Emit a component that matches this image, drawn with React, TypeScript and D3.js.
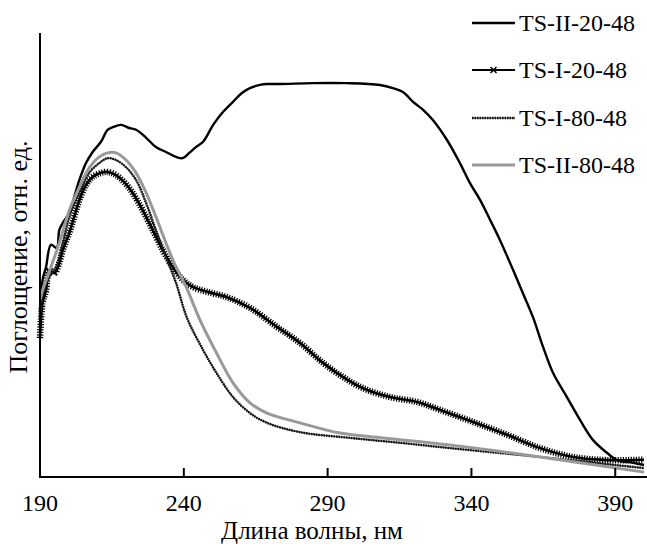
import React from 'react';
import * as d3 from 'd3';

const W = 647;
const H = 544;

const xTicks = [190, 240, 290, 340, 390];
const seriesNames = ['TS-II-20-48', 'TS-I-20-48', 'TS-I-80-48', 'TS-II-80-48'];

const nmII20 = [190, 190.9, 192.1, 193.8, 195.8, 196.7, 197.9, 200.2, 201.9, 203.7, 206.0, 208.3, 211.2, 213.5, 215.3, 218.2, 221.0, 223.4, 226.9, 230.3, 233.8, 237.3, 239.6, 241.9, 244.2, 246.7, 250.2, 253.6, 257.1, 260.2, 263.0, 266.5, 268.9, 273.4, 284.9, 296.7, 308.2, 312.7, 316.2, 319.7, 323.2, 326.6, 331.5, 336.0, 339.5, 343.0, 346.5, 349.9, 354.5, 357.9, 361.4, 364.9, 368.4, 373.2, 377.8, 382.3, 387.2, 390.6, 396.2, 400];
const valII20 = [37.6, 44.4, 47.3, 52.3, 51.6, 55.6, 57.2, 59.5, 63.1, 66.9, 70.7, 73.2, 75.5, 78.2, 78.8, 79.3, 78.6, 78.2, 76.4, 74.3, 73.2, 72.1, 71.8, 73.0, 74.3, 75.5, 79.3, 82.2, 84.5, 86.5, 87.6, 88.3, 88.5, 88.5, 88.7, 88.7, 88.3, 87.6, 86.7, 84.5, 82.7, 80.4, 75.9, 70.7, 66.2, 62.4, 57.9, 53.4, 46.6, 41.4, 36.0, 29.3, 23.4, 18.0, 12.8, 8.3, 5.4, 3.8, 3.2, 2.7];

const nmI20 = [190, 190.9, 192.1, 193.2, 195.0, 196.7, 197.9, 200.2, 201.9, 203.7, 206.0, 208.3, 211.2, 213.5, 216.4, 219.3, 222.2, 225.7, 229.2, 232.7, 236.1, 239.7, 243.1, 248.1, 255.0, 263.0, 272.4, 280.4, 288.4, 295.4, 302.3, 311.7, 321.1, 329.1, 340.6, 352.4, 363.9, 375.3, 387.2, 400];
const valI20 = [31.3, 39.2, 42.1, 46.6, 45.9, 48.2, 51.1, 55.0, 58.6, 62.4, 65.8, 67.6, 68.5, 68.7, 68.0, 66.4, 64.0, 60.1, 55.6, 51.1, 47.3, 44.4, 42.8, 41.7, 40.5, 38.1, 33.8, 30.2, 25.7, 22.5, 20.0, 18.0, 16.9, 15.1, 12.4, 9.5, 6.5, 4.5, 3.8, 3.9];

const nmI80 = [190, 190.9, 193.2, 195.6, 197.9, 200.2, 203.7, 207.1, 210.6, 213.5, 216.4, 219.9, 223.4, 226.9, 230.3, 233.8, 237.3, 241.0, 246.7, 251.4, 257.1, 263.0, 268.9, 280.4, 297.8, 315.2, 332.6, 363.9, 400];
const valI80 = [35.4, 40.5, 45.0, 47.3, 52.7, 58.6, 64.0, 68.5, 70.7, 71.8, 71.4, 69.8, 66.9, 61.7, 55.6, 49.5, 43.7, 36.0, 28.6, 23.4, 18.0, 14.4, 12.2, 10.1, 8.8, 7.7, 6.5, 4.5, 2.0];

const nmII80 = [190, 190.9, 193.8, 196.7, 200.2, 203.7, 207.1, 210.6, 213.5, 216.4, 219.9, 223.4, 226.9, 230.3, 233.8, 237.3, 240.8, 245.6, 251.4, 257.1, 263.0, 268.9, 280.4, 294.3, 309.3, 332.6, 363.9, 400];
const valII80 = [39.9, 42.1, 47.3, 52.7, 60.1, 65.3, 69.6, 72.1, 73.0, 73.0, 71.4, 68.5, 64.0, 58.6, 52.7, 47.3, 42.8, 35.4, 27.9, 21.2, 16.7, 14.4, 12.2, 9.9, 8.8, 7.2, 4.5, 1.1];

const FONT = '"Liberation Serif", "Times New Roman", "DejaVu Serif", serif';
const txtStyle: React.CSSProperties = { fontFamily: FONT, fontSize: '24px' };
const titleStyle: React.CSSProperties = { fontFamily: FONT, fontSize: '25px' };
const yTitleStyle: React.CSSProperties = { fontFamily: FONT, fontSize: '26px' };

export default function App() {
  const x = d3.scaleLinear().domain([190, 400]).range([40, 644]);
  const y = d3.scaleLinear().domain([0, 100]).range([477, 33]);

  const mk = (xs: number[], ys: number[]) =>
    d3
      .line<number>()
      .x((_, i) => x(xs[i]))
      .y((d) => y(d))
      .curve(d3.curveCatmullRom.alpha(0.5))(ys) || '';

  const pII20 = mk(nmII20, valII20);
  const pI20 = mk(nmI20, valI20);
  const pI80 = mk(nmI80, valI80);
  const pII80 = mk(nmII80, valII80);

  const legX0 = 472;
  const legX1 = 515;
  const legRows = [23, 70, 118, 165];
  const mx = (legX0 + legX1) / 2;

  return (
    <svg width={W} height={H} style={{ position: 'absolute', left: 0, top: 0, background: '#fff' }}>
      <rect x={0} y={0} width={W} height={H} fill="#fff" />
      {/* series */}
      <path d={pII20} fill="none" stroke="#000" strokeWidth={2.4} strokeLinejoin="round" />
      <path d={pI20} fill="none" stroke="#000" strokeWidth={2.6} />
      <path d={pI20} fill="none" stroke="#000" strokeWidth={6.5} strokeDasharray="1.2 1.4" />
      <path d={pI80} fill="none" stroke="#444" strokeWidth={1.2} />
      <path d={pI80} fill="none" stroke="#111" strokeWidth={2.4} strokeDasharray="1.6 0.9" />
      <path d={pII80} fill="none" stroke="#999" strokeWidth={3} />

      {/* axes */}
      <line x1={40} y1={33} x2={40} y2={478} stroke="#000" strokeWidth={2} />
      <line x1={39} y1={477} x2={647} y2={477} stroke="#000" strokeWidth={2} />
      {xTicks.map((t) => (
        <g key={t}>
          <line x1={x(t)} x2={x(t)} y1={477} y2={468} stroke="#000" strokeWidth={2} />
          <text x={x(t)} y={510.5} textAnchor="middle" style={txtStyle} fill="#000">
            {t}
          </text>
        </g>
      ))}
      <text x={312} y={538.5} textAnchor="middle" style={titleStyle} fill="#000">
        Длина волны, нм
      </text>
      <text transform="translate(27, 257) rotate(-90)" textAnchor="middle" style={yTitleStyle} fill="#000">
        Поглощение, отн. ед.
      </text>

      {/* legend */}
      {seriesNames.map((name, i) => {
        const cy = legRows[i];
        return (
          <g key={name}>
            {i === 0 && <line x1={legX0} x2={legX1} y1={cy} y2={cy} stroke="#000" strokeWidth={2.4} />}
            {i === 1 && (
              <g>
                <line x1={legX0} x2={legX1} y1={cy} y2={cy} stroke="#000" strokeWidth={2.2} />
                <path
                  d={`M${mx - 3},${cy - 3}L${mx + 3},${cy + 3}M${mx - 3},${cy + 3}L${mx + 3},${cy - 3}`}
                  stroke="#000"
                  strokeWidth={1.5}
                />
              </g>
            )}
            {i === 2 && (
              <g>
                <line x1={legX0} x2={legX1} y1={cy} y2={cy} stroke="#444" strokeWidth={1.2} />
                <line x1={legX0} x2={legX1} y1={cy} y2={cy} stroke="#111" strokeWidth={2.4} strokeDasharray="1.6 0.9" />
              </g>
            )}
            {i === 3 && <line x1={legX0} x2={legX1} y1={cy} y2={cy} stroke="#999" strokeWidth={3} />}
            <text x={519} y={cy + 8} style={txtStyle} fill="#000">
              {name}
            </text>
          </g>
        );
      })}
    </svg>
  );
}
